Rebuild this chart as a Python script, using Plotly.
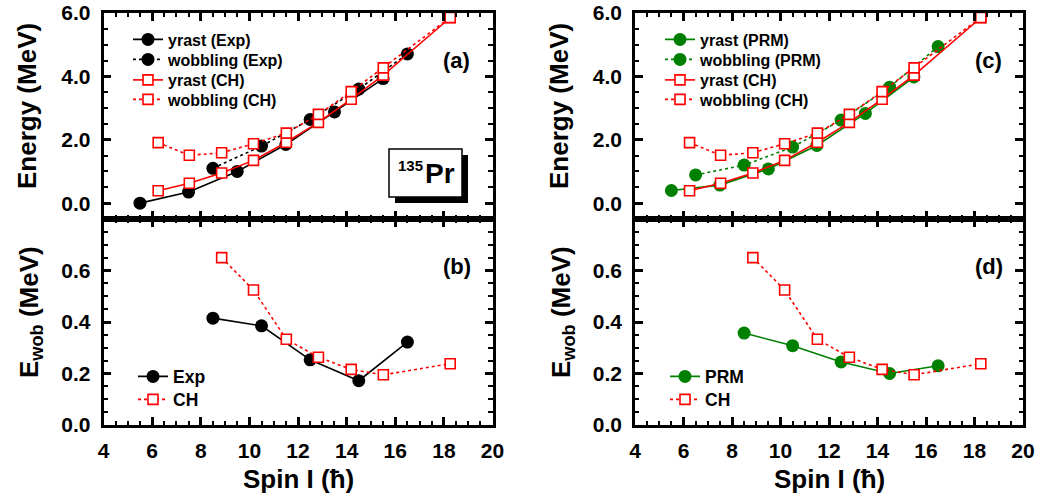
import plotly.graph_objects as go

# ---------------- data ----------------
exp_yrast_spin = [5.5, 7.5, 9.5, 11.5, 13.5, 15.5]
exp_yrast_E = [0.0, 0.35, 1.0, 1.85, 2.88, 3.93]
exp_wob_spin = [8.5, 10.5, 12.5, 14.5, 16.5]
exp_wob_E = [1.1, 1.8, 2.64, 3.6, 4.71]

ch_spin = [6.25, 7.53, 8.86, 10.17, 11.52, 12.84, 14.19, 15.51, 18.26]
ch_yrast_E = [0.39, 0.63, 0.95, 1.35, 1.92, 2.55, 3.28, 4.04, 5.85]
ch_wob_E = [1.91, 1.51, 1.59, 1.875, 2.21, 2.8, 3.52, 4.27, 5.86]

prm_yrast_spin = [5.5, 7.5, 9.5, 11.5, 13.5, 15.5]
prm_yrast_E = [0.40, 0.57, 1.08, 1.82, 2.83, 3.98]
prm_wob_spin = [6.5, 8.5, 10.5, 12.5, 14.5, 16.5]
prm_wob_E = [0.89, 1.2, 1.77, 2.62, 3.66, 4.94]

exp_ewob_spin = [8.5, 10.5, 12.5, 14.5, 16.5]
exp_ewob = [0.415, 0.385, 0.253, 0.172, 0.322]
prm_ewob_spin = [8.5, 10.5, 12.5, 14.5, 16.5]
prm_ewob = [0.357, 0.308, 0.245, 0.2, 0.23]
ch_ewob_spin = [8.86, 10.17, 11.52, 12.84, 14.19, 15.51, 18.26]
ch_ewob = [0.65, 0.524, 0.333, 0.263, 0.216, 0.195, 0.238]

x_ticks = [4, 6, 8, 10, 12, 14, 16, 18, 20]
e_ticks = [0.0, 2.0, 4.0, 6.0]
w_ticks = [0.0, 0.2, 0.4, 0.6]

# ---------------- geometry helpers ----------------
W, H = 1039, 501
FONT = "Liberation Sans"
def px(x):
    return x / W
def py(y):
    return 1 - y / H

BLACK = "#000000"
RED = "#ff0000"
GREEN = "#008000"

fig = go.Figure()
legends = {}

circ = dict(symbol="circle", size=13)
sq = dict(symbol="square", size=10, color="white", line=dict(color=RED, width=1.6))

def leg(text_x, row_y, size):
    return dict(x=px(text_x - 40), y=py(row_y - (17.5 if size < 17 else 18.5)),
                xanchor="left", yanchor="top", bgcolor="rgba(0,0,0,0)",
                font=dict(family=FONT, size=size, color=BLACK, weight="bold"),
                tracegroupgap=0, borderwidth=0)

counter = [0]
def add(x, y, xa, ya, name, color, dash, marker, text_x, row_y, fsize):
    counter[0] += 1
    lname = "legend" if counter[0] == 1 else "legend%d" % counter[0]
    legends[lname] = leg(text_x, row_y, fsize)
    m = dict(marker)
    if m["symbol"] == "circle":
        m["color"] = color
        m["line"] = dict(width=0)
    fig.add_trace(go.Scatter(x=x, y=y, xaxis=xa, yaxis=ya, name=name, mode="lines+markers",
                             line=dict(color=color, width=1.6, dash=dash), marker=m,
                             legend=lname, showlegend=True))

# panel (a)
add(exp_yrast_spin, exp_yrast_E, "x", "y", "yrast (Exp)", BLACK, "solid", circ, 168, 40, 16)
add(exp_wob_spin, exp_wob_E, "x", "y", "wobbling (Exp)", BLACK, "dot", circ, 168, 60, 16)
add(ch_spin, ch_yrast_E, "x", "y", "yrast (CH)", RED, "solid", sq, 168, 80.5, 16)
add(ch_spin, ch_wob_E, "x", "y", "wobbling (CH)", RED, "dot", sq, 168, 100, 16)
# panel (b)
add(exp_ewob_spin, exp_ewob, "x2", "y2", "Exp", BLACK, "solid", circ, 173, 377, 17.5)
add(ch_ewob_spin, ch_ewob, "x2", "y2", "CH", RED, "dot", sq, 173, 400, 17.5)
# panel (c)
add(prm_yrast_spin, prm_yrast_E, "x3", "y3", "yrast (PRM)", GREEN, "solid", circ, 700, 40, 16)
add(prm_wob_spin, prm_wob_E, "x3", "y3", "wobbling (PRM)", GREEN, "dot", circ, 700, 60, 16)
add(ch_spin, ch_yrast_E, "x3", "y3", "yrast (CH)", RED, "solid", sq, 700, 80.5, 16)
add(ch_spin, ch_wob_E, "x3", "y3", "wobbling (CH)", RED, "dot", sq, 700, 100, 16)
# panel (d)
add(prm_ewob_spin, prm_ewob, "x4", "y4", "PRM", GREEN, "solid", circ, 705, 377, 17.5)
add(ch_ewob_spin, ch_ewob, "x4", "y4", "CH", RED, "dot", sq, 705, 400, 17.5)

LEFT = [px(103.5), px(492.5)]
RIGHT = [px(635), px(1023)]
TOP = [py(219), py(13)]
BOT = [py(425), py(219)]

tickfont = dict(family=FONT, size=21, color=BLACK, weight="bold")

def xax(domain, anchor, labels):
    return dict(domain=domain, anchor=anchor, range=[4, 20], tickvals=x_ticks,
                ticktext=[str(v) for v in x_ticks], showticklabels=labels,
                ticks="inside", ticklen=8, tickwidth=2.5, tickcolor=BLACK,
                minor=dict(ticks="inside", dtick=0.5, tick0=4, ticklen=4.5, tickwidth=2, tickcolor=BLACK),
                showline=True, linewidth=2.5, linecolor=BLACK, mirror="ticks",
                showgrid=False, zeroline=False, tickfont=tickfont, ticklabelstandoff=5,
                automargin=False)

def yax(domain, anchor, rng, vals, mdt):
    return dict(domain=domain, anchor=anchor, range=rng, tickvals=vals,
                ticktext=["%.1f" % v for v in vals],
                ticks="inside", ticklen=8, tickwidth=2.5, tickcolor=BLACK,
                minor=dict(ticks="inside", dtick=mdt, tick0=0, ticklen=4.5, tickwidth=2, tickcolor=BLACK),
                showline=True, linewidth=2.5, linecolor=BLACK, mirror="ticks",
                showgrid=False, zeroline=False, tickfont=tickfont, ticklabelstandoff=6,
                automargin=False)

anns = []
def ann(text, x, y, size, angle=0):
    anns.append(dict(text=text, x=px(x), y=py(y), xref="paper", yref="paper",
                     xanchor="center", yanchor="middle", showarrow=False, textangle=angle,
                     font=dict(family=FONT, size=size, color=BLACK, weight="bold")))

ann("Energy (MeV)", 27, 106, 26, -90)
ann("Energy (MeV)", 559, 106, 26, -90)
ann("E<sub>wob</sub> (MeV)", 30, 312, 26, -90)
ann("E<sub>wob</sub> (MeV)", 562, 312, 26, -90)
ann("Spin I (ħ)", 298, 479, 26)
ann("Spin I (ħ)", 829, 479, 26)
ann("(a)", 456.5, 60, 22)
ann("(b)", 457, 266, 22)
ann("(c)", 988, 60, 22)
ann("(d)", 989, 266, 22)
ann("Pr", 440, 173, 28)
ann("135", 410.5, 165, 15)

shapes = [
    dict(type="rect", xref="paper", yref="paper", x0=px(395), x1=px(468), y0=py(203), y1=py(155),
         fillcolor=BLACK, line=dict(width=0), layer="above"),
    dict(type="rect", xref="paper", yref="paper", x0=px(389), x1=px(462), y0=py(197), y1=py(149),
         fillcolor="white", line=dict(color=BLACK, width=1.5), layer="above"),
]

fig.update_layout(
    width=W, height=H, margin=dict(l=0, r=0, t=0, b=0, autoexpand=False),
    paper_bgcolor="white", plot_bgcolor="white",
    xaxis=xax(LEFT, "y", False), yaxis=yax(TOP, "x", [-0.5, 6.0], e_ticks, 0.5),
    xaxis2=xax(LEFT, "y2", True), yaxis2=yax(BOT, "x2", [0, 0.8], w_ticks, 0.05),
    xaxis3=xax(RIGHT, "y3", False), yaxis3=yax(TOP, "x3", [-0.5, 6.0], e_ticks, 0.5),
    xaxis4=xax(RIGHT, "y4", True), yaxis4=yax(BOT, "x4", [0, 0.8], w_ticks, 0.05),
    annotations=anns, shapes=shapes,
    **legends,
)

fig.write_html("out.html", config={"displayModeBar": False},
               post_script="document.body.style.margin='0px';document.body.style.overflow='hidden';")
